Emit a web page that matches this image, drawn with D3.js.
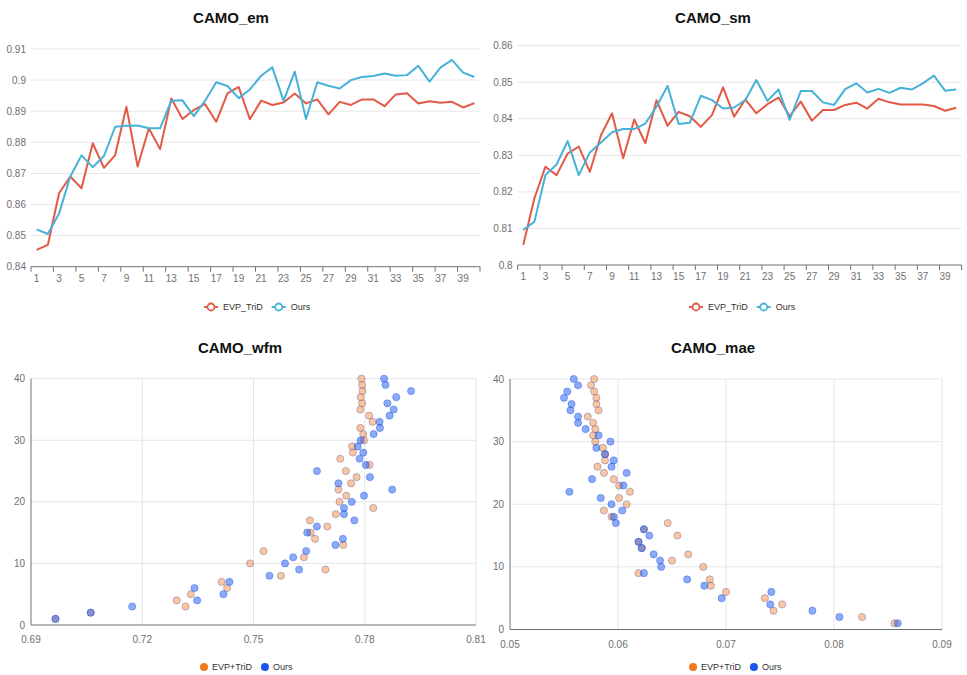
<!DOCTYPE html>
<html>
<head>
<meta charset="utf-8">
<script src="https://cdn.jsdelivr.net/npm/d3@7/dist/d3.min.js"></script>
<style>
  body { margin: 0; background: #fff; }
  text { font-family: "Liberation Sans", Arial, sans-serif; }
</style>
</head>
<body>
<svg id="chart" width="967" height="675"></svg>
<script>
// epochs on the x axis of the line charts / y axis of the scatters
const epochs = [1,2,3,4,5,6,7,8,9,10,11,12,13,14,15,16,17,18,19,20,
                21,22,23,24,25,26,27,28,29,30,31,32,33,34,35,36,37,38,39,40];

// CAMO_em
const emEVP = [0.8454,0.8470,0.8636,0.8690,0.8652,0.8797,0.8718,0.8759,0.8914,0.8722,
               0.8845,0.8778,0.8941,0.8875,0.8904,0.8923,0.8866,0.8957,0.8978,0.8874,
               0.8934,0.8920,0.8928,0.8957,0.8925,0.8938,0.8890,0.8930,0.8920,0.8938,
               0.8938,0.8916,0.8954,0.8958,0.8925,0.8932,0.8927,0.8930,0.8912,0.8926];
const emOurs = [0.8520,0.8505,0.8571,0.8690,0.8758,0.8720,0.8756,0.8850,0.8853,0.8854,
                0.8845,0.8845,0.8934,0.8935,0.8884,0.8933,0.8993,0.8981,0.8942,0.8970,
                0.9014,0.9041,0.8933,0.9027,0.8875,0.8993,0.8982,0.8973,0.9000,0.9010,
                0.9013,0.9021,0.9014,0.9016,0.9046,0.8995,0.9041,0.9065,0.9024,0.9010];
const emTicks = [0.84,0.85,0.86,0.87,0.88,0.89,0.9,0.91];

// CAMO_sm
const smEVP = [0.8055,0.8182,0.8269,0.8246,0.8305,0.8324,0.8255,0.8355,0.8415,0.8292,
               0.8398,0.8333,0.8451,0.8381,0.8419,0.8407,0.8378,0.8410,0.8486,0.8406,
               0.8453,0.8415,0.8440,0.8458,0.8407,0.8447,0.8395,0.8424,0.8424,0.8438,
               0.8444,0.8428,0.8455,0.8445,0.8439,0.8439,0.8439,0.8435,0.8422,0.8430];
const smOurs = [0.8096,0.8118,0.8246,0.8275,0.8339,0.8246,0.8308,0.8335,0.8363,0.8372,
                0.8372,0.8387,0.8433,0.8490,0.8386,0.8389,0.8463,0.8451,0.8428,0.8431,
                0.8451,0.8506,0.8449,0.8480,0.8397,0.8476,0.8476,0.8445,0.8438,0.8481,
                0.8497,0.8472,0.8482,0.8471,0.8485,0.8480,0.8497,0.8518,0.8477,0.8480];
const smTicks = [0.8,0.81,0.82,0.83,0.84,0.85,0.86];

// CAMO_wfm (value per epoch)
const wfmEVP = [0.6966,0.7061,0.7317,0.7293,0.7331,0.7429,0.7414,0.7574,0.7694,0.7491,
                0.7636,0.7527,0.7742,0.7666,0.7654,0.7699,0.7652,0.7722,0.7823,0.7732,
                0.7750,0.7729,0.7763,0.7778,0.7749,0.7813,0.7734,0.7768,0.7766,0.7798,
                0.7796,0.7788,0.7821,0.7812,0.7788,0.7793,0.7789,0.7794,0.7793,0.7791];
const wfmOurs = [0.6966,0.7061,0.7173,0.7348,0.7419,0.7341,0.7435,0.7543,0.7623,0.7585,
                 0.7607,0.7642,0.7721,0.7741,0.7645,0.7671,0.7772,0.7744,0.7744,0.7765,
                 0.7798,0.7874,0.7729,0.7814,0.7671,0.7803,0.7786,0.7796,0.7781,0.7789,
                 0.7824,0.7841,0.7840,0.7867,0.7878,0.7861,0.7885,0.7925,0.7856,0.7852];
const wfmTicks = [0.69,0.72,0.75,0.78,0.81];

// CAMO_mae (value per epoch)
const maeEVP = [0.0856,0.0826,0.0744,0.0752,0.0736,0.0700,0.0686,0.0685,0.0619,0.0679,
                0.0650,0.0665,0.0622,0.0619,0.0655,0.0624,0.0646,0.0594,0.0587,0.0608,
                0.0601,0.0611,0.0601,0.0596,0.0587,0.0581,0.0588,0.0588,0.0586,0.0579,
                0.0577,0.0579,0.0577,0.0572,0.0582,0.0580,0.0580,0.0578,0.0575,0.0578];
const maeOurs = [0.0859,0.0805,0.0780,0.0741,0.0696,0.0742,0.0680,0.0664,0.0624,0.0640,
                 0.0639,0.0633,0.0622,0.0619,0.0629,0.0624,0.0598,0.0596,0.0604,0.0594,
                 0.0584,0.0555,0.0605,0.0576,0.0608,0.0594,0.0596,0.0588,0.0580,0.0593,
                 0.0582,0.0570,0.0563,0.0563,0.0556,0.0557,0.0550,0.0553,0.0563,0.0559];
const maeTicks = [0.05,0.06,0.07,0.08,0.09];
const epochTicks = [0,10,20,30,40];

const svg = d3.select('#chart');
const axisColor = '#6E7079';
const gridColor = '#E6E6E6';
const labelColor = '#707070';
const fmt = d => String(+d.toFixed(2));

function title(text, cx, y) {
  svg.append('text')
    .attr('x', cx).attr('y', y)
    .attr('text-anchor', 'middle')
    .style('font-size', '15px').style('font-weight', 'bold').style('fill', '#111')
    .text(text);
}

function lineChart(o) {
  const g = svg.append('g');
  const x = d3.scaleBand().domain(epochs).range([o.left, o.right]);
  const y = d3.scaleLinear().domain([o.ticks[0], o.ticks[o.ticks.length - 1]]).range([o.bottom, o.top]);

  // horizontal grid
  g.selectAll('.grid').data(o.ticks.slice(1)).enter().append('line')
    .attr('x1', o.left).attr('x2', o.right)
    .attr('y1', d => y(d)).attr('y2', d => y(d))
    .style('stroke', gridColor);

  // y labels
  g.selectAll('.ylab').data(o.ticks).enter().append('text')
    .attr('x', o.left - 5).attr('y', d => y(d)).attr('dy', '0.35em')
    .attr('text-anchor', 'end')
    .style('font-size', '10px').style('fill', labelColor)
    .text(fmt);

  // x axis
  g.append('line')
    .attr('x1', o.left).attr('x2', o.right)
    .attr('y1', y(o.ticks[0])).attr('y2', y(o.ticks[0]))
    .style('stroke', axisColor);

  const shown = epochs.filter((d, i) => i % 2 === 0);
  g.selectAll('.xtick').data(shown).enter().append('line')
    .attr('x1', d => x(d)).attr('x2', d => x(d))
    .attr('y1', y(o.ticks[0])).attr('y2', y(o.ticks[0]) + 5)
    .style('stroke', axisColor);
  g.append('line')
    .attr('x1', o.right).attr('x2', o.right)
    .attr('y1', y(o.ticks[0])).attr('y2', y(o.ticks[0]) + 5)
    .style('stroke', axisColor);

  g.selectAll('.xlab').data(shown).enter().append('text')
    .attr('x', d => x(d) + x.bandwidth() / 2).attr('y', y(o.ticks[0]) + 8).attr('dy', '0.71em')
    .attr('text-anchor', 'middle')
    .style('font-size', '10px').style('fill', labelColor)
    .text(d => d);

  const line = d3.line()
    .x((d, i) => x(epochs[i]) + x.bandwidth() / 2)
    .y(d => y(d));

  o.series.forEach(s => {
    g.append('path').datum(s.values)
      .attr('d', line)
      .style('fill', 'none').style('stroke', s.color).style('stroke-width', 2)
      .style('stroke-linejoin', 'round');
  });

  title(o.title, o.titleX, o.titleY);

  // legend
  let lx = o.legendX;
  o.series.forEach(s => {
    const ly = o.legendY;
    g.append('line').attr('x1', lx).attr('x2', lx + 14).attr('y1', ly).attr('y2', ly)
      .style('stroke', s.color).style('stroke-width', 2);
    g.append('circle').attr('cx', lx + 7).attr('cy', ly).attr('r', 3.5)
      .style('fill', '#fff').style('stroke', s.color).style('stroke-width', 1.8);
    const t = g.append('text').attr('x', lx + 19).attr('y', ly).attr('dy', '0.35em')
      .style('font-size', '9px').style('fill', '#333').text(s.name);
    lx += 19 + t.node().getComputedTextLength() + 9;
  });
}

function scatterChart(o) {
  const g = svg.append('g');
  const x = d3.scaleLinear().domain([o.xTicks[0], o.xTicks[o.xTicks.length - 1]]).range([o.left, o.right]);
  const y = d3.scaleLinear().domain([0, 40]).range([o.bottom, o.top]);

  g.selectAll('.hgrid').data(epochTicks.slice(1)).enter().append('line')
    .attr('x1', o.left).attr('x2', o.right)
    .attr('y1', d => y(d)).attr('y2', d => y(d))
    .style('stroke', gridColor);
  g.selectAll('.vgrid').data(o.xTicks.slice(1)).enter().append('line')
    .attr('x1', d => x(d)).attr('x2', d => x(d))
    .attr('y1', o.top).attr('y2', o.bottom)
    .style('stroke', gridColor);

  g.append('line').attr('x1', o.left).attr('x2', o.left).attr('y1', o.top).attr('y2', o.bottom)
    .style('stroke', axisColor);
  g.append('line').attr('x1', o.left).attr('x2', o.right).attr('y1', o.bottom).attr('y2', o.bottom)
    .style('stroke', axisColor);

  g.selectAll('.ylab').data(epochTicks).enter().append('text')
    .attr('x', o.left - 6).attr('y', d => y(d)).attr('dy', '0.35em')
    .attr('text-anchor', 'end')
    .style('font-size', '10px').style('fill', labelColor)
    .text(d => d);
  g.selectAll('.xlab').data(o.xTicks).enter().append('text')
    .attr('x', d => x(d)).attr('y', o.bottom + 11).attr('dy', '0.71em')
    .attr('text-anchor', 'middle')
    .style('font-size', '10px').style('fill', labelColor)
    .text(fmt);

  o.series.forEach(s => {
    g.selectAll(null).data(s.values).enter().append('circle')
      .attr('cx', d => x(d)).attr('cy', (d, i) => y(epochs[i]))
      .attr('r', 3.6)
      .style('fill', s.color).style('fill-opacity', s.opacity)
      .style('stroke', s.stroke).style('stroke-opacity', 0.5).style('stroke-width', 0.8);
  });

  title(o.title, o.titleX, o.titleY);

  let lx = o.legendX;
  o.series.forEach(s => {
    const ly = o.legendY;
    g.append('circle').attr('cx', lx + 4).attr('cy', ly).attr('r', 4).style('fill', s.color);
    const t = g.append('text').attr('x', lx + 12).attr('y', ly).attr('dy', '0.35em')
      .style('font-size', '9px').style('fill', '#333').text(s.name);
    lx += 12 + t.node().getComputedTextLength() + 9;
  });
}

const red = '#E25A45', cyan = '#46B2D8';
const orange = '#EE7A1F', blue = '#1A55EE';

lineChart({
  left: 31, right: 480, top: 49, bottom: 266.7, ticks: emTicks,
  title: 'CAMO_em', titleX: 231, titleY: 23, legendX: 204, legendY: 307,
  series: [{name: 'EVP_TriD', values: emEVP, color: red}, {name: 'Ours', values: emOurs, color: cyan}]
});
lineChart({
  left: 517.7, right: 961.7, top: 45.7, bottom: 265, ticks: smTicks,
  title: 'CAMO_sm', titleX: 713, titleY: 23, legendX: 689, legendY: 307,
  series: [{name: 'EVP_TriD', values: smEVP, color: red}, {name: 'Ours', values: smOurs, color: cyan}]
});
scatterChart({
  left: 31, right: 476, top: 378.7, bottom: 625, xTicks: wfmTicks,
  title: 'CAMO_wfm', titleX: 240, titleY: 353, legendX: 200, legendY: 667,
  series: [{name: 'EVP+TriD', values: wfmEVP, color: orange, opacity: 0.42, stroke: '#6a5a9a'},
           {name: 'Ours', values: wfmOurs, color: blue, opacity: 0.5, stroke: blue}]
});
scatterChart({
  left: 510, right: 942, top: 379, bottom: 629.5, xTicks: maeTicks,
  title: 'CAMO_mae', titleX: 713, titleY: 353, legendX: 689, legendY: 667,
  series: [{name: 'EVP+TriD', values: maeEVP, color: orange, opacity: 0.42, stroke: '#6a5a9a'},
           {name: 'Ours', values: maeOurs, color: blue, opacity: 0.5, stroke: blue}]
});
</script>
</body>
</html>
